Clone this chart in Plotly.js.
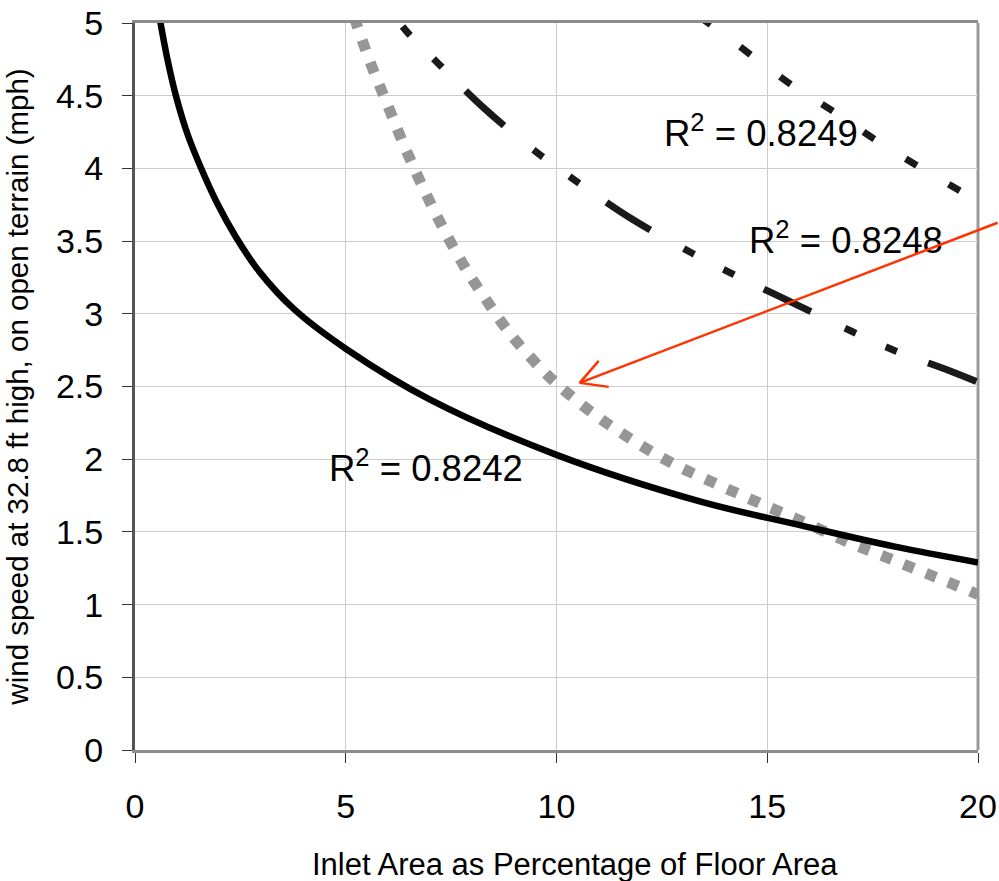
<!DOCTYPE html>
<html>
<head>
<meta charset="utf-8">
<script src="https://cdn.plot.ly/plotly-3.0.1.min.js"></script>
<style>html,body{margin:0;padding:0;background:#fff;}#chart{width:999px;height:881px;}</style>
</head>
<body>
<div id="chart"></div>
<script>
// Solid black curve (R² = 0.8242)
const solidX = [0.58, 0.77, 0.97, 1.24, 1.6, 1.95, 2.39, 2.95, 3.78, 5.0, 7.0, 10.0, 13.4, 15.8, 18.0, 20.0];
const solidY = [5.04, 4.75, 4.5, 4.24, 3.98, 3.76, 3.53, 3.29, 3.03, 2.76, 2.41, 2.03, 1.71, 1.545, 1.40, 1.29];
// Gray dotted curve
const grayX = [5.2, 5.58, 6.0, 6.41, 6.88, 7.38, 7.93, 8.23, 8.88, 9.61, 10.0, 10.89, 11.81, 12.76, 13.79, 14.8, 15.85, 16.84, 17.87, 18.9, 20.0];
const grayY = [5.04, 4.73, 4.43, 4.14, 3.84, 3.55, 3.27, 3.14, 2.87, 2.63, 2.52, 2.31, 2.13, 1.97, 1.83, 1.70, 1.57, 1.44, 1.32, 1.20, 1.07];
// Middle long-dash-dot-dot curve (R² = 0.8248)
const midX = [6.2, 6.48, 7.2, 8.3, 9.49, 10.43, 11.8, 13.2, 14.21, 16.0, 17.0, 18.0, 19.4, 20.0];
const midY = [5.03, 4.93, 4.72, 4.41, 4.12, 3.92, 3.65, 3.42, 3.27, 3.02, 2.88, 2.75, 2.60, 2.53];
// Top dashed curve (R² = 0.8249)
const topX = [13.4, 13.75, 14.66, 15.6, 16.58, 17.55, 18.55, 19.55, 20.0];
const topY = [5.04, 4.97, 4.77, 4.57, 4.39, 4.20, 4.02, 3.85, 3.78];

const r2Labels = ["R<sup>2</sup> = 0.8249", "R<sup>2</sup> = 0.8248", "R<sup>2</sup> = 0.8242"];
const r2X = [12.5, 14.52, 4.55];
const r2Y = [4.26, 3.52, 1.95];

const arrowTip = [10.55, 2.525];
const arrowTail = [20.5, 3.63];

const xTicks = [0, 5, 10, 15, 20];
const yTicks = [0, 0.5, 1, 1.5, 2, 2.5, 3, 3.5, 4, 4.5, 5];

const xTitle = "Inlet Area as Percentage of Floor Area";
const yTitle = "wind speed at 32.8 ft high, on open terrain (mph)";

const FONT = "Liberation Sans, Arial, Helvetica, sans-serif";
const RED = "#ff3300";

const traces = [
  {x: grayX, y: grayY, mode: "lines", line: {color: "#969696", width: 11, dash: "11px,13px", shape: "spline", smoothing: 1}},
  {x: midX, y: midY, mode: "lines", line: {color: "#1a1a1a", width: 7, dash: "0px,10px,12px,33px,12px,33px,52px,28px", shape: "spline", smoothing: 1}},
  {x: topX, y: topY, mode: "lines", line: {color: "#1a1a1a", width: 7, dash: "13px,37px", shape: "spline", smoothing: 1}},
  {x: solidX, y: solidY, mode: "lines", line: {color: "#000000", width: 6.5, shape: "spline", smoothing: 1}}
];

const annotations = r2Labels.map((t, i) => ({
  x: r2X[i], y: r2Y[i], xref: "x", yref: "y", text: t, showarrow: false,
  xanchor: "left", yanchor: "middle", font: {family: FONT, size: 36.5, color: "#000"}
}));
annotations.push({
  x: arrowTip[0], y: arrowTip[1], ax: arrowTail[0], ay: arrowTail[1],
  xref: "x", yref: "y", axref: "x", ayref: "y", text: "", showarrow: true,
  arrowhead: 0, arrowwidth: 2.5, arrowcolor: RED, standoff: 0
});
// x-axis title (placed slightly right of the plot centre, as in the original)
annotations.push({
  x: 0.522, y: -0.157, xref: "paper", yref: "paper", text: xTitle, showarrow: false,
  xanchor: "center", yanchor: "middle", font: {family: FONT, size: 31, color: "#000"}
});

// open chevron arrow head, drawn in pixel offsets anchored at the arrow tip
const headArms = [[19, 22], [29, -4]];
const headShapes = headArms.map(a => ({
  type: "line", xref: "x", yref: "y",
  xsizemode: "pixel", ysizemode: "pixel",
  xanchor: arrowTip[0], yanchor: arrowTip[1],
  x0: 0, y0: 0, x1: a[0], y1: a[1],
  line: {color: RED, width: 2.5}
}));

const layout = {
  width: 999, height: 881,
  margin: {l: 135, r: 21, t: 23, b: 131},
  paper_bgcolor: "#ffffff", plot_bgcolor: "#ffffff",
  showlegend: false,
  font: {family: FONT, color: "#000"},
  xaxis: {
    range: [0, 20], tickvals: xTicks, ticktext: xTicks.map(String),
    showgrid: true, gridcolor: "#cccccc", gridwidth: 1,
    zeroline: false, showline: true, linecolor: "#8c8c8c", linewidth: 3, mirror: true,
    ticks: "outside", ticklen: 10, tickcolor: "#333", tickwidth: 1,
    tickfont: {family: FONT, size: 34, color: "#000"}, ticklabelstandoff: 14
  },
  yaxis: {
    range: [0, 5], tickvals: yTicks, ticktext: yTicks.map(String),
    showgrid: true, gridcolor: "#cccccc", gridwidth: 1,
    zeroline: false, showline: true, linecolor: "#555555", linewidth: 3,
    ticks: "outside", ticklen: 10, tickcolor: "#333", tickwidth: 1,
    tickfont: {family: FONT, size: 34, color: "#000"}, ticklabelstandoff: 12,
    title: {text: yTitle, font: {family: FONT, size: 29.5, color: "#000"}, standoff: 19}
  },
  shapes: [
    {type: "line", xref: "paper", yref: "paper", x0: 1, x1: 1, y0: 0, y1: 1, line: {color: "#999999", width: 3}, layer: "below"}
  ].concat(headShapes),
  annotations: annotations
};

Plotly.newPlot("chart", traces, layout, {staticPlot: true, displayModeBar: false});
</script>
</body>
</html>
